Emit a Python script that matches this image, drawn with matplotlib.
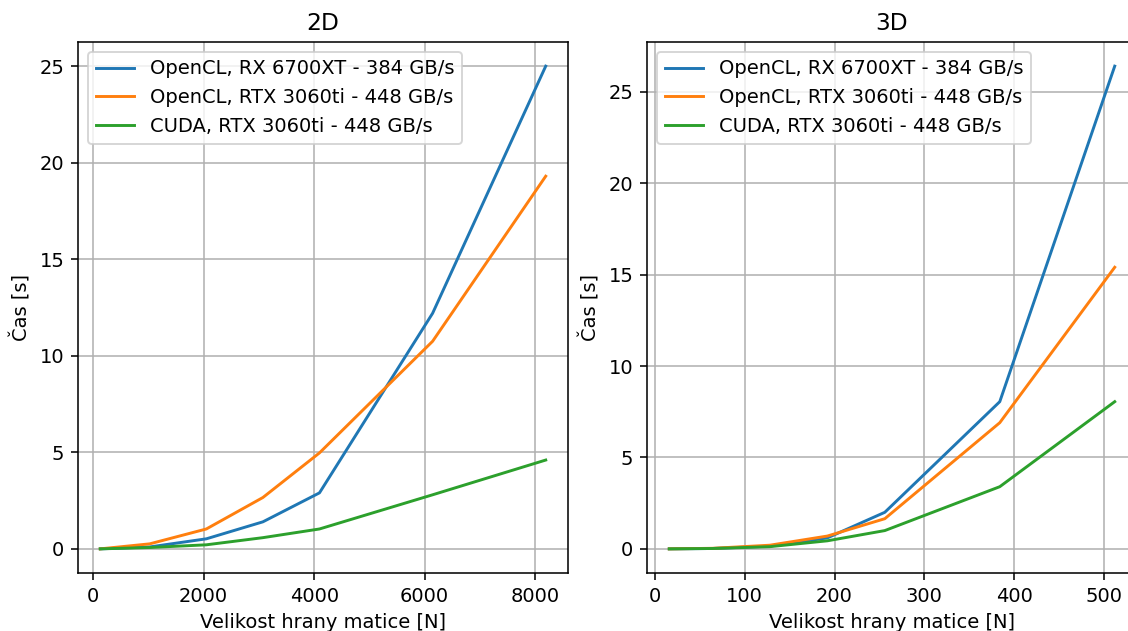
import matplotlib
matplotlib.use("Agg")
import matplotlib.pyplot as plt

LABELS = [
    "OpenCL, RX 6700XT - 384 GB/s",
    "OpenCL, RTX 3060ti - 448 GB/s",
    "CUDA, RTX 3060ti - 448 GB/s",
]

# 2D: edge size N vs time [s]
n_2d = [128, 1024, 2048, 3072, 4096, 6144, 8192]
amd_2d = [0.0, 0.10, 0.52, 1.40, 2.90, 12.2, 25.0]
ocl_nv_2d = [0.0, 0.26, 1.03, 2.66, 4.97, 10.75, 19.3]
cuda_2d = [0.0, 0.07, 0.21, 0.58, 1.03, 2.80, 4.60]

# 3D
n_3d = [16, 64, 128, 192, 256, 384, 512]
amd_3d = [0.0, 0.02, 0.15, 0.60, 2.00, 8.05, 26.4]
ocl_nv_3d = [0.0, 0.03, 0.20, 0.70, 1.65, 6.90, 15.4]
cuda_3d = [0.0, 0.02, 0.12, 0.44, 1.00, 3.40, 8.05]

W, H = 1128, 631
DPI = 140
fig = plt.figure(figsize=(W / DPI, H / DPI), dpi=DPI)
# axes boxes in pixels (the right panel runs a bit past the canvas edge)
ax1 = fig.add_axes([78 / W, 58 / H, 490 / W, 531 / H])
ax2 = fig.add_axes([647 / W, 58 / H, 490 / W, 531 / H])

for ax, x, series, title in [
    (ax1, n_2d, [amd_2d, ocl_nv_2d, cuda_2d], "2D"),
    (ax2, n_3d, [amd_3d, ocl_nv_3d, cuda_3d], "3D"),
]:
    for y, lab in zip(series, LABELS):
        ax.plot(x, y, label=lab)
    ax.set_title(title)
    ax.set_xlabel("Velikost hrany matice [N]")
    ax.set_ylabel("Čas [s]")
    ax.grid(True)
    ax.legend(loc="upper left")

fig.savefig("out.png", dpi=DPI)
